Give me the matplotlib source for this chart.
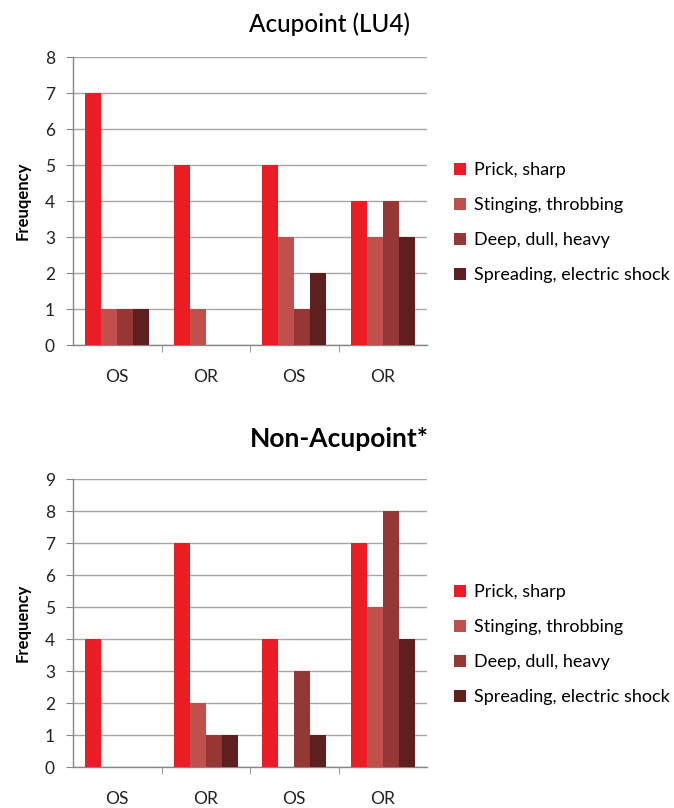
import matplotlib
matplotlib.use("Agg")
import matplotlib.pyplot as plt
import numpy as np

categories = ["OS", "OR", "OS", "OR"]
series_names = ["Prick, sharp", "Stinging, throbbing", "Deep, dull, heavy", "Spreading, electric shock"]
colors = ["#EC1C24", "#C0504D", "#953735", "#5E1F1F"]

acu_prick = [7, 5, 5, 4]
acu_sting = [1, 1, 3, 3]
acu_deep = [1, 0, 1, 4]
acu_spread = [1, 0, 2, 3]

non_prick = [4, 7, 4, 7]
non_sting = [0, 2, 0, 5]
non_deep = [0, 1, 3, 8]
non_spread = [0, 1, 1, 4]

plt.rcParams['font.family'] = ['Lato', 'DejaVu Sans']

W, H = 674, 808
fig = plt.figure(figsize=(W / 100, H / 100), dpi=100)

def draw(ax, data, ymax, title, ylabel, title_size, title_weight, title_xy):
    x = np.arange(len(categories))
    w = 0.18
    offs = (np.arange(4) - 1.5) * w
    for i, vals in enumerate(data):
        ax.bar(x + offs[i], vals, width=w, color=colors[i], label=series_names[i], zorder=3)
    ax.set_xlim(-0.5, len(categories) - 0.5)
    ax.set_ylim(0, ymax)
    ax.set_yticks(range(0, ymax + 1))
    ax.yaxis.grid(True, color="#A6A6A6", linewidth=1.0, zorder=0)
    ax.set_axisbelow(True)
    ax.set_xticks(x)
    ax.set_xticklabels(categories, fontsize=12.5)
    ax.set_xticks(np.arange(0.5, len(categories) - 0.5, 1.0), minor=True)
    ax.tick_params(axis='x', which='major', length=0, pad=17, labelcolor="#222222")
    ax.tick_params(axis='x', which='minor', length=5, color="#868686", direction='out')
    ax.tick_params(axis='y', length=5, color="#868686", labelsize=12.5, pad=8, labelcolor="#222222")
    for s in ["top", "right"]:
        ax.spines[s].set_visible(False)
    for s in ["left", "bottom"]:
        ax.spines[s].set_color("#868686")
        ax.spines[s].set_linewidth(1.0)
    ax.set_ylabel(ylabel, fontsize=12, fontweight='bold', labelpad=10)
    fig.text(title_xy[0] / W, 1 - title_xy[1] / H, title, fontsize=title_size,
             fontweight=title_weight, ha='center', va='center')
    ax.legend(loc='center left', bbox_to_anchor=(1.03, 0.425), frameon=False,
              fontsize=13, handlelength=0.65, handleheight=0.65, labelspacing=1.05,
              handletextpad=0.45)

ax1 = fig.add_axes([73 / W, 1 - 345 / H, (427 - 73) / W, (345 - 57) / H])
draw(ax1, [acu_prick, acu_sting, acu_deep, acu_spread], 8, "Acupoint (LU4)", "Freuqency",
     17.5, "medium", (329, 24))

ax2 = fig.add_axes([73 / W, 1 - 767 / H, (427 - 73) / W, (767 - 479) / H])
draw(ax2, [non_prick, non_sting, non_deep, non_spread], 9, "Non-Acupoint*", "Frequency",
     19, "bold", (339, 439))

fig.savefig("out.png", dpi=100)
